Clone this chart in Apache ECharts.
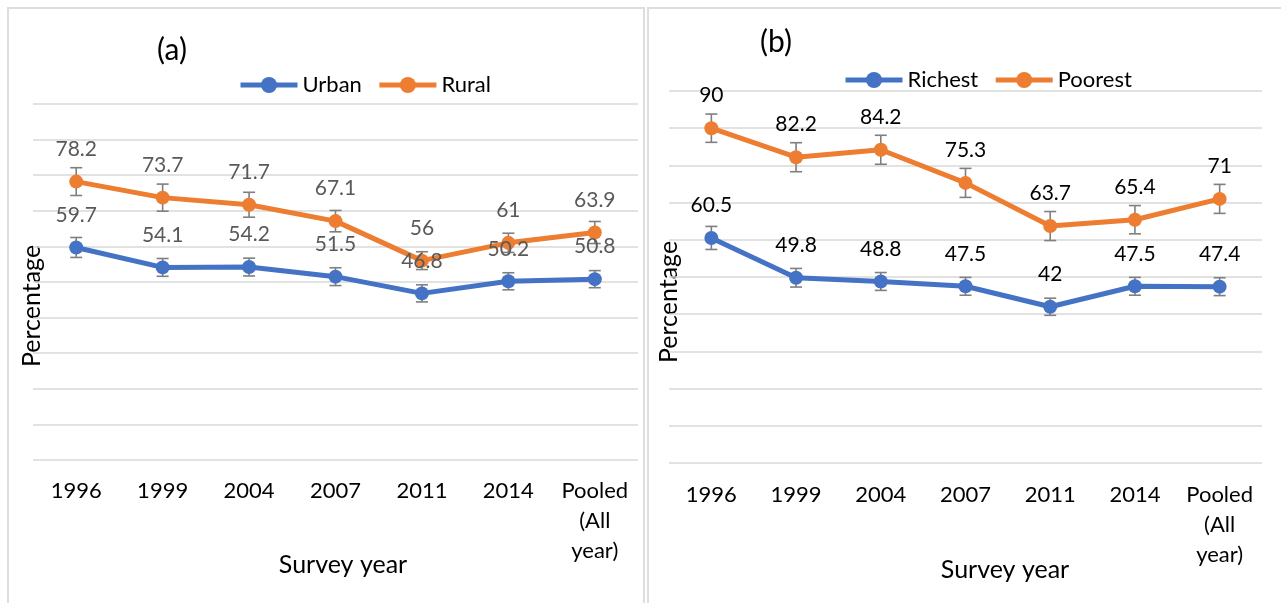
<!DOCTYPE html>
<html>
<head>
<meta charset="utf-8">
<script src="https://cdn.jsdelivr.net/npm/echarts@6/dist/echarts.min.js"></script>
<style>
  html, body { margin: 0; background: #fff; }
  #chart { width: 1281px; height: 603px; }
</style>
</head>
<body>
<div id="chart"></div>
<script>
// survey years (x categories)
const years = ['1996', '1999', '2004', '2007', '2011', '2014', 'Pooled\n(All\nyear)']

// panel (a)
const urban = [59.7, 54.1, 54.2, 51.5, 46.8, 50.2, 50.8]
const rural = [78.2, 73.7, 71.7, 67.1, 56, 61, 63.9]
const urbanErr = [2.8, 2.5, 2.5, 2.5, 2.4, 2.4, 2.4]
const ruralErr = [3.9, 3.8, 3.5, 3.0, 2.5, 2.7, 3.1]

// panel (b)
const richest = [60.5, 49.8, 48.8, 47.5, 42, 47.5, 47.4]
const poorest = [90, 82.2, 84.2, 75.3, 63.7, 65.4, 71]
const richestErr = [3.1, 2.5, 2.4, 2.4, 2.3, 2.4, 2.4]
const poorestErr = [3.8, 3.9, 3.9, 3.9, 3.9, 3.8, 3.9]

const FONT = 'Lato'
const BLUE = '#4472c4'
const ORANGE = '#ed7d31'

const chart = echarts.init(document.getElementById('chart'))

function lineSeries(name, idx, values, color, labelColor) {
  return {
    name,
    type: 'line',
    xAxisIndex: idx,
    yAxisIndex: idx,
    data: values,
    symbol: 'circle',
    symbolSize: 14,
    z: 3,
    lineStyle: { color, width: 5 },
    itemStyle: { color },
    label: {
      show: true,
      position: 'top',
      distance: 15,
      color: labelColor,
      fontFamily: FONT,
      fontSize: 21
    }
  }
}

function errorBars(idx, values, errs) {
  return {
    type: 'custom',
    xAxisIndex: idx,
    yAxisIndex: idx,
    z: 2,
    silent: true,
    data: values.map((v, i) => [i, v - errs[i], v + errs[i]]),
    encode: { x: 0, y: [1, 2] },
    renderItem: (params, api) => {
      const lo = api.coord([api.value(0), api.value(1)])
      const hi = api.coord([api.value(0), api.value(2)])
      const w = 6
      const style = { stroke: '#7f7f7f', lineWidth: 1.6 }
      return {
        type: 'group',
        children: [
          { type: 'line', shape: { x1: hi[0], y1: hi[1], x2: lo[0], y2: lo[1] }, style },
          { type: 'line', shape: { x1: hi[0] - w, y1: hi[1], x2: hi[0] + w, y2: hi[1] }, style },
          { type: 'line', shape: { x1: lo[0] - w, y1: lo[1], x2: lo[0] + w, y2: lo[1] }, style }
        ]
      }
    }
  }
}

function xAxis(idx, margin) {
  return {
    type: 'category',
    gridIndex: idx,
    data: years,
    axisLine: { show: false },
    axisTick: { show: false },
    axisLabel: {
      interval: 0,
      color: '#000',
      fontFamily: FONT,
      fontSize: 22,
      lineHeight: 30,
      margin
    }
  }
}

function yAxis(idx) {
  return {
    type: 'value',
    gridIndex: idx,
    min: 0,
    max: 100,
    interval: 10,
    axisLine: { show: false },
    axisTick: { show: false },
    axisLabel: { show: false },
    splitLine: { lineStyle: { color: '#d9d9d9', width: 1.5 } }
  }
}

function legend(names, left, top) {
  return {
    data: names,
    left,
    top,
    itemWidth: 57,
    itemHeight: 20,
    itemGap: 15,
    lineStyle: { width: 5 },
    textStyle: { color: '#000', fontFamily: FONT, fontSize: 22 }
  }
}

const textStyle = (text, size) => ({ text, fill: '#000', font: size + 'px ' + FONT, align: 'center', verticalAlign: 'middle' })

const option = {
  backgroundColor: '#fff',
  animation: false,
  grid: [
    { left: 33, top: 104, width: 605, height: 356 },
    { left: 669, top: 91, width: 593, height: 372 }
  ],
  xAxis: [xAxis(0, 16), xAxis(1, 17)],
  yAxis: [yAxis(0), yAxis(1)],
  legend: [
    legend(['Urban', 'Rural'], 233, 69),
    legend(['Richest', 'Poorest'], 838, 64)
  ],
  series: [
    errorBars(0, urban, urbanErr),
    errorBars(0, rural, ruralErr),
    lineSeries('Urban', 0, urban, BLUE, '#595959'),
    lineSeries('Rural', 0, rural, ORANGE, '#595959'),
    errorBars(1, richest, richestErr),
    errorBars(1, poorest, poorestErr),
    lineSeries('Richest', 1, richest, BLUE, '#000'),
    lineSeries('Poorest', 1, poorest, ORANGE, '#000')
  ],
  graphic: [
    // panel frames
    { type: 'rect', shape: { x: 8, y: 8, width: 636, height: 620 }, style: { fill: 'none', stroke: '#dedede', lineWidth: 2 }, z: -1 },
    { type: 'rect', shape: { x: 648, y: 8, width: 660, height: 620 }, style: { fill: 'none', stroke: '#dedede', lineWidth: 2 }, z: -1 },
    // panel tags
    { type: 'text', x: 172, y: 50, style: textStyle('(a)', 30) },
    { type: 'text', x: 776, y: 42, style: textStyle('(b)', 30) },
    // axis titles
    { type: 'text', x: 343, y: 565, style: textStyle('Survey year', 25) },
    { type: 'text', x: 1005, y: 570, style: textStyle('Survey year', 25) },
    { type: 'text', x: 32, y: 306, rotation: Math.PI / 2, style: textStyle('Percentage', 25) },
    { type: 'text', x: 669, y: 302, rotation: Math.PI / 2, style: textStyle('Percentage', 25) }
  ]
}

chart.setOption(option)
</script>
</body>
</html>
